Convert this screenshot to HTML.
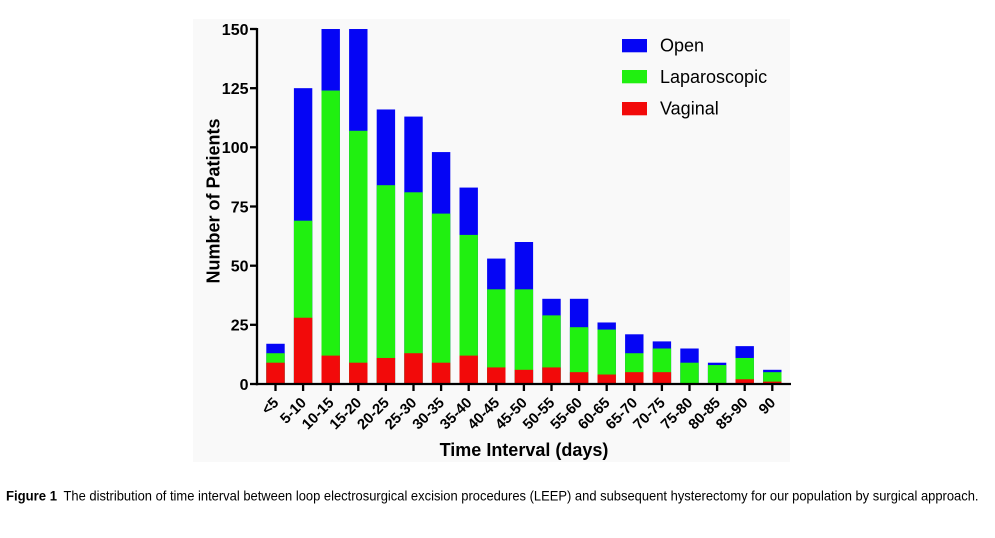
<!DOCTYPE html>
<html>
<head>
<meta charset="utf-8">
<style>
  html, body { margin:0; padding:0; background:#ffffff; }
  body { width:995px; height:538px; overflow:hidden; }
  svg { display:block; }
  .b { font-family:"Liberation Sans", Arial, sans-serif; font-weight:bold; fill:#000; }
  .n { font-family:"Liberation Sans", Arial, sans-serif; fill:#000; }
</style>
</head>
<body>
<svg width="995" height="538" viewBox="0 0 995 538" xmlns="http://www.w3.org/2000/svg">
  <rect x="0" y="0" width="995" height="538" fill="#ffffff"/>
  <rect x="193" y="19" width="597" height="443" fill="#f9f9f9"/>

  <!-- bars: blue (total), green (lap+vag), red (vag) -->
  <g fill="#0505f5">
    <rect x="266.3" y="343.77" width="18.4" height="40.23"/>
    <rect x="293.9" y="88.17" width="18.4" height="295.83"/>
    <rect x="321.5" y="29" width="18.4" height="355"/>
    <rect x="349.1" y="29" width="18.4" height="355"/>
    <rect x="376.7" y="109.47" width="18.4" height="274.53"/>
    <rect x="404.3" y="116.57" width="18.4" height="267.43"/>
    <rect x="431.9" y="152.07" width="18.4" height="231.93"/>
    <rect x="459.5" y="187.57" width="18.4" height="196.43"/>
    <rect x="487.1" y="258.57" width="18.4" height="125.43"/>
    <rect x="514.7" y="242" width="18.4" height="142"/>
    <rect x="542.3" y="298.8" width="18.4" height="85.2"/>
    <rect x="569.9" y="298.8" width="18.4" height="85.2"/>
    <rect x="597.5" y="322.47" width="18.4" height="61.53"/>
    <rect x="625.1" y="334.3" width="18.4" height="49.7"/>
    <rect x="652.7" y="341.4" width="18.4" height="42.6"/>
    <rect x="680.3" y="348.5" width="18.4" height="35.5"/>
    <rect x="707.9" y="362.7" width="18.4" height="21.3"/>
    <rect x="735.5" y="346.13" width="18.4" height="37.87"/>
    <rect x="763.1" y="369.8" width="18.4" height="14.2"/>
  </g>
  <g fill="#20f010">
    <rect x="266.3" y="353.23" width="18.4" height="30.77"/>
    <rect x="293.9" y="220.7" width="18.4" height="163.3"/>
    <rect x="321.5" y="90.53" width="18.4" height="293.47"/>
    <rect x="349.1" y="130.77" width="18.4" height="253.23"/>
    <rect x="376.7" y="185.2" width="18.4" height="198.8"/>
    <rect x="404.3" y="192.3" width="18.4" height="191.7"/>
    <rect x="431.9" y="213.6" width="18.4" height="170.4"/>
    <rect x="459.5" y="234.9" width="18.4" height="149.1"/>
    <rect x="487.1" y="289.33" width="18.4" height="94.67"/>
    <rect x="514.7" y="289.33" width="18.4" height="94.67"/>
    <rect x="542.3" y="315.37" width="18.4" height="68.63"/>
    <rect x="569.9" y="327.2" width="18.4" height="56.8"/>
    <rect x="597.5" y="329.57" width="18.4" height="54.43"/>
    <rect x="625.1" y="353.23" width="18.4" height="30.77"/>
    <rect x="652.7" y="348.5" width="18.4" height="35.5"/>
    <rect x="680.3" y="362.7" width="18.4" height="21.3"/>
    <rect x="707.9" y="365.07" width="18.4" height="18.93"/>
    <rect x="735.5" y="357.97" width="18.4" height="26.03"/>
    <rect x="763.1" y="372.17" width="18.4" height="11.83"/>
  </g>
  <g fill="#f20a0a">
    <rect x="266.3" y="362.7" width="18.4" height="21.3"/>
    <rect x="293.9" y="317.73" width="18.4" height="66.27"/>
    <rect x="321.5" y="355.6" width="18.4" height="28.4"/>
    <rect x="349.1" y="362.7" width="18.4" height="21.3"/>
    <rect x="376.7" y="357.97" width="18.4" height="26.03"/>
    <rect x="404.3" y="353.23" width="18.4" height="30.77"/>
    <rect x="431.9" y="362.7" width="18.4" height="21.3"/>
    <rect x="459.5" y="355.6" width="18.4" height="28.4"/>
    <rect x="487.1" y="367.43" width="18.4" height="16.57"/>
    <rect x="514.7" y="369.8" width="18.4" height="14.2"/>
    <rect x="542.3" y="367.43" width="18.4" height="16.57"/>
    <rect x="569.9" y="372.17" width="18.4" height="11.83"/>
    <rect x="597.5" y="374.53" width="18.4" height="9.47"/>
    <rect x="625.1" y="372.17" width="18.4" height="11.83"/>
    <rect x="652.7" y="372.17" width="18.4" height="11.83"/>
    <rect x="735.5" y="379.27" width="18.4" height="4.73"/>
    <rect x="763.1" y="381.63" width="18.4" height="2.37"/>
  </g>

  <!-- axes -->
  <g stroke="#000" stroke-width="2.3" fill="none">
    <line x1="257" y1="28" x2="257" y2="385.2"/>
    <line x1="255.8" y1="384" x2="791" y2="384"/>
    <!-- y ticks -->
    <line x1="250" y1="29" x2="257" y2="29"/>
    <line x1="250" y1="88.2" x2="257" y2="88.2"/>
    <line x1="250" y1="147.3" x2="257" y2="147.3"/>
    <line x1="250" y1="206.5" x2="257" y2="206.5"/>
    <line x1="250" y1="265.7" x2="257" y2="265.7"/>
    <line x1="250" y1="324.8" x2="257" y2="324.8"/>
    <line x1="250" y1="384" x2="257" y2="384"/>
    <!-- x ticks -->
    <line x1="275.5" y1="384" x2="275.5" y2="391"/>
    <line x1="303.1" y1="384" x2="303.1" y2="391"/>
    <line x1="330.7" y1="384" x2="330.7" y2="391"/>
    <line x1="358.3" y1="384" x2="358.3" y2="391"/>
    <line x1="385.9" y1="384" x2="385.9" y2="391"/>
    <line x1="413.5" y1="384" x2="413.5" y2="391"/>
    <line x1="441.1" y1="384" x2="441.1" y2="391"/>
    <line x1="468.7" y1="384" x2="468.7" y2="391"/>
    <line x1="496.3" y1="384" x2="496.3" y2="391"/>
    <line x1="523.9" y1="384" x2="523.9" y2="391"/>
    <line x1="551.5" y1="384" x2="551.5" y2="391"/>
    <line x1="579.1" y1="384" x2="579.1" y2="391"/>
    <line x1="606.7" y1="384" x2="606.7" y2="391"/>
    <line x1="634.3" y1="384" x2="634.3" y2="391"/>
    <line x1="661.9" y1="384" x2="661.9" y2="391"/>
    <line x1="689.5" y1="384" x2="689.5" y2="391"/>
    <line x1="717.1" y1="384" x2="717.1" y2="391"/>
    <line x1="744.7" y1="384" x2="744.7" y2="391"/>
    <line x1="772.3" y1="384" x2="772.3" y2="391"/>
  </g>

  <!-- y tick labels -->
  <g class="b" font-size="16" text-anchor="end">
    <text x="248.5" y="34.8">150</text>
    <text x="248.5" y="94">125</text>
    <text x="248.5" y="153.1">100</text>
    <text x="248.5" y="212.3">75</text>
    <text x="248.5" y="271.5">50</text>
    <text x="248.5" y="330.6">25</text>
    <text x="248.5" y="389.8">0</text>
  </g>

  <!-- x tick labels -->
  <g class="b" font-size="14.8" text-anchor="end">
    <text transform="translate(279.5,403.5) rotate(-45)">&lt;5</text>
    <text transform="translate(307.1,403.5) rotate(-45)">5-10</text>
    <text transform="translate(334.7,403.5) rotate(-45)">10-15</text>
    <text transform="translate(362.3,403.5) rotate(-45)">15-20</text>
    <text transform="translate(389.9,403.5) rotate(-45)">20-25</text>
    <text transform="translate(417.5,403.5) rotate(-45)">25-30</text>
    <text transform="translate(445.1,403.5) rotate(-45)">30-35</text>
    <text transform="translate(472.7,403.5) rotate(-45)">35-40</text>
    <text transform="translate(500.3,403.5) rotate(-45)">40-45</text>
    <text transform="translate(527.9,403.5) rotate(-45)">45-50</text>
    <text transform="translate(555.5,403.5) rotate(-45)">50-55</text>
    <text transform="translate(583.1,403.5) rotate(-45)">55-60</text>
    <text transform="translate(610.7,403.5) rotate(-45)">60-65</text>
    <text transform="translate(638.3,403.5) rotate(-45)">65-70</text>
    <text transform="translate(665.9,403.5) rotate(-45)">70-75</text>
    <text transform="translate(693.5,403.5) rotate(-45)">75-80</text>
    <text transform="translate(721.1,403.5) rotate(-45)">80-85</text>
    <text transform="translate(748.7,403.5) rotate(-45)">85-90</text>
    <text transform="translate(776.3,403.5) rotate(-45)">90</text>
  </g>

  <!-- axis titles -->
  <text class="b" font-size="18" x="524" y="456" text-anchor="middle">Time Interval (days)</text>
  <text class="b" font-size="18" text-anchor="middle" transform="translate(219.5,201) rotate(-90)">Number of Patients</text>

  <!-- legend -->
  <rect x="622" y="39" width="25" height="13.3" fill="#0505f5"/>
  <rect x="622" y="70" width="25" height="13.3" fill="#20f010"/>
  <rect x="622" y="102" width="25" height="13.3" fill="#f20a0a"/>
  <g class="n" font-size="18">
    <text x="660" y="51.5">Open</text>
    <text x="660" y="83">Laparoscopic</text>
    <text x="660" y="114.5">Vaginal</text>
  </g>

  <!-- caption -->
  <text class="b" font-size="14" x="6" y="500.5" textLength="51" lengthAdjust="spacingAndGlyphs">Figure 1</text>
  <text class="n" font-size="14" x="63.5" y="500.5" textLength="915" lengthAdjust="spacingAndGlyphs">The distribution of time interval between loop electrosurgical excision procedures (LEEP) and subsequent hysterectomy for our population by surgical approach.</text>
</svg>
</body>
</html>
